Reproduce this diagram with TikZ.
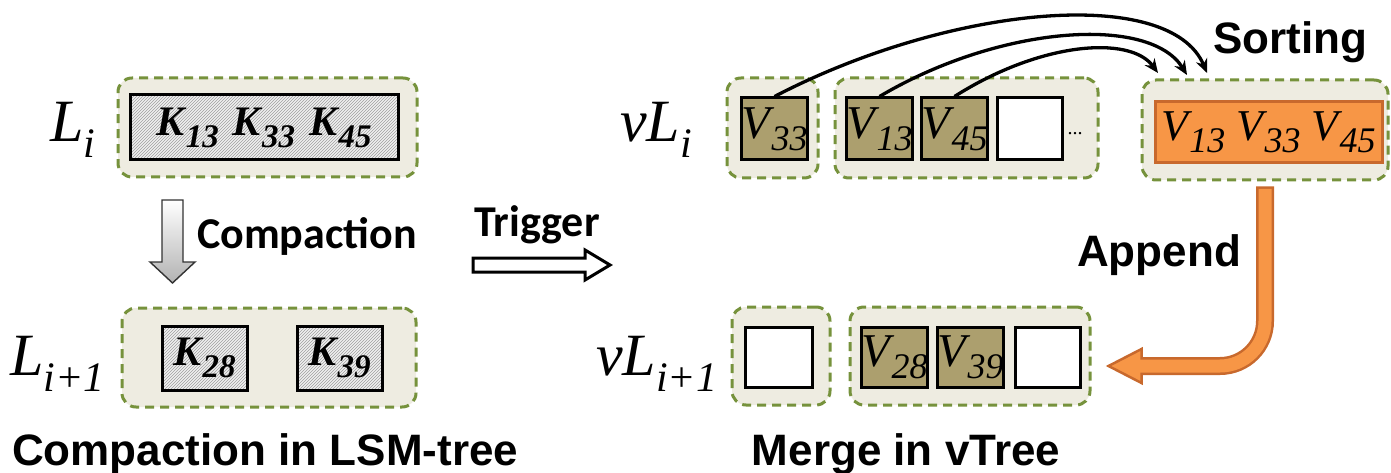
\documentclass[tikz,border=0pt]{standalone}
\usepackage{fontspec}
\setmainfont{Liberation Serif}
\newfontfamily\arialf{Liberation Sans}
\newfontfamily\calf{Carlito}
\usetikzlibrary{patterns,arrows.meta,calc}
\definecolor{dgreen}{RGB}{118,146,60}
\definecolor{tanbg}{RGB}{238,236,225}
\definecolor{khaki}{RGB}{172,159,110}
\definecolor{orng}{RGB}{247,150,70}
\definecolor{orngd}{RGB}{200,105,45}
\newcommand\kk[1]{\textbf{\textit{K}}\kern-1pt\raisebox{-12pt}{\fontsize{33}{33}\selectfont\textbf{\textit{#1}}}}
\newcommand\vv[1]{\textit{V}\kern-3pt\raisebox{-12pt}{\fontsize{36}{36}\selectfont\textit{#1}}}
\newcommand\lsub[1]{\raisebox{-16pt}{\fontsize{42}{42}\selectfont\textit{#1}}}
\begin{document}
\begin{tikzpicture}[x=1pt,y=-1pt,
  grp/.style={draw=dgreen, fill=tanbg, line width=3pt, dash pattern=on 9pt off 6pt, rounded corners=14pt, minimum width=#1, inner sep=0pt},
  keybox/.style={draw=black, line width=3pt, preaction={fill=gray!12}, pattern=north east lines, pattern color=gray!75, inner sep=0pt},
  vbox/.style={draw=black, line width=3pt, fill=khaki, minimum width=65pt, minimum height=62pt, inner sep=0pt, font=\fontsize{47}{47}\selectfont},
  ebox/.style={draw=black, line width=3pt, fill=white, minimum width=65pt, minimum height=62pt, inner sep=0pt},
  keyfont/.style={font=\fontsize{42}{42}\selectfont},
  lbl/.style={font=\fontsize{60}{60}\selectfont\itshape, inner sep=0pt, anchor=base west},
  sanslbl/.style={font=\arialf\bfseries\fontsize{44}{44}\selectfont, inner sep=0pt},
  callbl/.style={font=\calf\bfseries\fontsize{44}{44}\selectfont, inner sep=0pt},
  curv/.style={line width=3.3pt, -{Stealth[length=14pt,width=12pt]}}
]
\useasboundingbox (0,0) rectangle (1391,473);

% ---------- left: LSM-tree ----------
\node[grp=299pt, minimum height=99pt] (g1) at (267.5,127.5) {};
\node[keybox, keyfont, minimum width=268pt, minimum height=65pt] (k1) at (264,127.5) {\kk{13}\hspace{14pt}\kk{33}\hspace{14pt}\kk{45}};
\node[lbl] (li) at (50,142) {L\lsub{i}};

\node[grp=294pt, minimum height=99pt] (g2) at (269,357.5) {};
\node[keybox, keyfont, minimum width=85pt, minimum height=64pt] (k28) at (204.5,358) {\kk{28}};
\node[keybox, keyfont, minimum width=85pt, minimum height=64pt] (k39) at (339.5,358) {\kk{39}};
\node[lbl] (li1) at (10,375) {L\lsub{i+1}};

\path[draw=gray!40!black, line width=1.4pt, top color=white, bottom color=gray!60]
  (162,200) -- (183,200) -- (183,262) -- (195,262) -- (172.5,283) -- (150,262) -- (162,262) -- cycle;
\node[callbl, anchor=west] (comp) at (197,236) {Compaction};

% trigger
\node[callbl] (trig) at (537,225) {Trigger};
\path[draw=black, fill=white, line width=3pt, line join=miter]
  (473,258) -- (585,258) -- (585,250) -- (610,265) -- (585,280) -- (585,272) -- (473,272) -- cycle;

\node[sanslbl, anchor=base west] (cap1) at (12,465) {Compaction in LSM-tree};

% ---------- right: vTree ----------
\node[lbl] (vli) at (620,142) {vL\lsub{i}};
\node[grp=91pt, minimum height=100pt] (vg1) at (772.5,128) {};
\node[vbox] (v33) at (774.5,129) {\vv{33}};
\node[grp=263pt, minimum height=100pt] (vg2) at (966.5,128) {};
\node[vbox] (v13) at (879.5,129) {\vv{13}};
\node[vbox] (v45) at (954.5,129) {\vv{45}};
\node[ebox] (e1) at (1030,129) {};
\node[font=\fontsize{20}{20}\selectfont, inner sep=0pt] (dots) at (1075,134) {...};

\node[grp=246pt, minimum height=100pt] (sg) at (1265,130) {};
\node[draw=orngd, fill=orng, line width=3pt, minimum width=227pt, minimum height=61pt, inner sep=0pt, font=\fontsize{44}{44}\selectfont] (sorted) at (1268.5,132.5) {\vv{13}\hspace{11pt}\vv{33}\hspace{11pt}\vv{45}};
\node[sanslbl] (sortlbl) at (1290,42) {Sorting};

\coordinate (tA) at (1207,73);
\coordinate (tB) at (1187,75);
\coordinate (tC) at (1158,73);
\draw[curv] (v33.north) .. controls (950,5) and (1170,-15) .. (tA);
\draw[curv] (v13.north) .. controls (1000,25) and (1150,15) .. (tB);
\draw[curv] (v45.north) .. controls (1040,42) and (1130,35) .. (tC);

\node[lbl] (vli1) at (596,375) {vL\lsub{i+1}};
\node[grp=98pt, minimum height=98pt] (wg1) at (781,356) {};
\node[ebox, minimum width=67pt, minimum height=60pt] (e2) at (778.5,357) {};
\node[grp=240pt, minimum height=98pt] (wg2) at (970,356) {};
\node[vbox, minimum height=60pt] (v28) at (894.5,357) {\vv{28}};
\node[vbox, minimum height=60pt] (v39) at (970.5,357) {\vv{39}};
\node[ebox, minimum height=60pt] (e3) at (1047.5,357) {};

% append arrow
\coordinate (apS) at ($(sg.south)+(0,5)$);
\coordinate (apT) at ($(wg2.east)+(17,10)$);
\draw[orngd, line width=18pt, rounded corners=45pt] (apS) -- (apS |- apT) -- ($(apT)+(33,0)$);
\path[draw=orngd, fill=orng, line width=2.5pt, line join=miter] ($(apT)+(33,-17)$) -- (apT) -- ($(apT)+(33,17)$) -- cycle;
\draw[orng, line width=13pt, rounded corners=45pt] ($(apS)+(0,2.5)$) -- (apS |- apT) -- ($(apT)+(28,0)$);
\node[sanslbl] (app) at (1159,255) {Append};

\node[sanslbl, anchor=base] (cap2) at (906,465) {Merge in vTree};
\end{tikzpicture}
\end{document}
